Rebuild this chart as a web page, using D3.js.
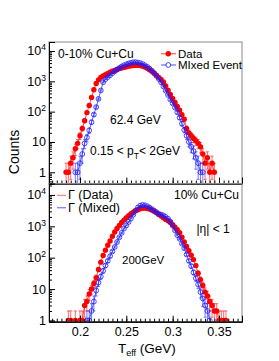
<!DOCTYPE html>
<html><head><meta charset="utf-8">
<script src="https://cdn.jsdelivr.net/npm/d3@7"></script>
<style>body{margin:0;background:#fff}svg{display:block}text{font-family:"Liberation Sans",Arial,Helvetica,sans-serif;fill:#000}</style>
</head><body><svg id="c" width="279" height="361"></svg>
<script>
// ---- axis ticks / labels ----
const xMajorTicks = [0.2, 0.25, 0.3, 0.35];
const xTickLabels = ["0.2", "0.25", "0.3", "0.35"];
const yMajorTicks = [1, 10, 100, 1000, 10000];
const yTickBase = ["1", "10", "10", "10", "10"];
const yTickExp = ["", "", "2", "3", "4"];

// ---- top panel: 62.4 GeV ----
const topDataT = [0.185,0.1875,0.19,0.1925,0.195,0.1975,0.2,0.2025,0.205,0.2075,0.21,0.2125,0.215,0.2175,0.22,0.2225,0.225,0.2275,0.23,0.2325,0.235,0.2375,0.24,0.2425,0.245,0.2475,0.25,0.2525,0.255,0.2575,0.26,0.2625,0.265,0.2675,0.27,0.2725,0.275,0.2775,0.28,0.2825,0.285,0.2875,0.29,0.2925,0.295,0.2975,0.3,0.3025,0.305,0.3075,0.31,0.3125,0.315,0.3175,0.32,0.3225,0.325,0.3275,0.33,0.3325,0.335,0.3375,0.34,0.3425,0.345];
const topDataC = [1,1,2,3,6,9,16,28,50,93,160,295,525,850,1120,1350,1510,1660,1820,2000,2140,2290,2450,2630,2750,2880,3020,3160,3240,3310,3350,3350,3310,3160,2950,2690,2400,2140,1860,1580,1350,1150,955,710,510,370,270,200,148,112,79,56,28,20,16,13,11,9,7,4,2,3,1,2,1];
const topMixT = [0.195,0.1975,0.2,0.2025,0.205,0.2075,0.21,0.2125,0.215,0.2175,0.22,0.2225,0.225,0.2275,0.23,0.2325,0.235,0.2375,0.24,0.2425,0.245,0.2475,0.25,0.2525,0.255,0.2575,0.26,0.2625,0.265,0.2675,0.27,0.2725,0.275,0.2775,0.28,0.2825,0.285,0.2875,0.29,0.2925,0.295,0.2975,0.3,0.3025,0.305,0.3075,0.31,0.3125,0.315,0.3175,0.32,0.3225,0.325,0.3275,0.33,0.3325];
const topMixC = [1,1,2,4,9,14,24,45,80,141,263,500,930,1175,1380,1585,1860,2140,2450,2750,3090,3390,3630,3890,4070,4270,4270,4170,3980,3720,3390,3020,2630,2240,1860,1510,1200,930,680,490,355,250,186,135,95,63,40,25,16,10,7,5,3,2,1,1];

// ---- bottom panel: 200 GeV ----
const botDataT = [0.1875,0.19,0.1925,0.195,0.1975,0.2,0.2025,0.205,0.2075,0.21,0.2125,0.215,0.2175,0.22,0.2225,0.225,0.2275,0.23,0.2325,0.235,0.2375,0.24,0.2425,0.245,0.2475,0.25,0.2525,0.255,0.2575,0.26,0.2625,0.265,0.2675,0.27,0.2725,0.275,0.2775,0.28,0.2825,0.285,0.2875,0.29,0.2925,0.295,0.2975,0.3,0.3025,0.305,0.3075,0.31,0.3125,0.315,0.3175,0.32,0.3225,0.325,0.3275,0.33,0.3325,0.335,0.3375,0.34,0.3425,0.345,0.3475,0.35,0.3525,0.355,0.3575];
const botDataC = [1,1,0,1,0,1,1,3,4,7,10,15,23,42,72,117,174,250,340,480,660,850,1070,1320,1580,1900,2190,2510,2820,3160,3390,3630,3800,3800,3720,3550,3310,3020,2690,2400,2140,1860,1660,1510,1320,1120,930,775,630,450,316,229,166,120,87,56,32,20,13,8,6,4,3,2,2,1,1,1,1];
const botMixT = [0.2075,0.21,0.2125,0.215,0.2175,0.22,0.2225,0.225,0.2275,0.23,0.2325,0.235,0.2375,0.24,0.2425,0.245,0.2475,0.25,0.2525,0.255,0.2575,0.26,0.2625,0.265,0.2675,0.27,0.2725,0.275,0.2775,0.28,0.2825,0.285,0.2875,0.29,0.2925,0.295,0.2975,0.3,0.3025,0.305,0.3075,0.31,0.3125,0.315,0.3175,0.32,0.3225,0.325,0.3275,0.33,0.3325,0.335,0.3375,0.34];
const botMixC = [1,1,2,4,9,16,25,38,56,79,112,158,219,316,447,617,851,1070,1380,1780,2340,3160,3980,4570,4790,4680,4370,3980,3550,3160,2820,2510,2350,2240,2000,1740,1410,1050,740,525,400,280,200,126,79,54,34,22,14,8,5,3,2,1];

const W = 279, H = 361;
const RED = "#ff0000", BLUE = "#1a1aff";
const svg = d3.select("#c");
svg.append("rect").attr("width", W).attr("height", H).attr("fill", "#fff");

const x = d3.scaleLinear().domain([0.1666, 0.3748]).range([49, 242]);
const xMinor = d3.range(34, 75).map(k => k * 0.005).filter(v => v > 0.1666 && v < 0.3748);

const panels = [
  { top: 42, bottom: 183.5, dom: [0.427, 19800], dT: topDataT, dC: topDataC, mT: topMixT, mC: topMixC, labels: false },
  { top: 183.5, bottom: 321.7, dom: [0.91, 23200], dT: botDataT, dC: botDataC, mT: botMixT, mC: botMixC, labels: true }
];

function series(g, y, T, C, color, filled, dom) {
  const pts = T.map((t, i) => ({ t, c: C[i] })).filter(d => d.c > 0);
  g.append("path").datum(pts)
    .attr("d", d3.line().x(d => x(d.t)).y(d => y(d.c)))
    .attr("fill", "none").attr("stroke", color).attr("stroke-width", 0.7);
  const eb = g.append("g").attr("stroke", color).attr("stroke-width", 0.8).attr("opacity", 0.75);
  pts.forEach(d => {
    const e = Math.sqrt(d.c);
    const hi = d.c + e, lo = Math.max(d.c - e, dom[0] * 0.5);
    const px = x(d.t);
    eb.append("line").attr("x1", px).attr("x2", px).attr("y1", y(hi)).attr("y2", y(lo));
    eb.append("line").attr("x1", px - 1.5).attr("x2", px + 1.5).attr("y1", y(hi)).attr("y2", y(hi));
    if (d.c - e > dom[0]) eb.append("line").attr("x1", px - 1.5).attr("x2", px + 1.5).attr("y1", y(lo)).attr("y2", y(lo));
  });
  g.append("g").selectAll("circle").data(pts).join("circle")
    .attr("cx", d => x(d.t)).attr("cy", d => y(d.c))
    .attr("r", filled ? 2.7 : 2.4)
    .attr("fill", filled ? color : "none")
    .attr("stroke", color).attr("stroke-width", filled ? 0 : 0.8);
}

panels.forEach((p, i) => {
  const y = d3.scaleLog().domain(p.dom).range([p.bottom, p.top]);
  const clipId = "clip" + i;
  svg.append("clipPath").attr("id", clipId).append("rect")
    .attr("x", 49).attr("y", p.top).attr("width", 193).attr("height", p.bottom - p.top);
  const plot = svg.append("g").attr("clip-path", `url(#${clipId})`);
  series(plot, y, p.dT, p.dC, RED, true, p.dom);
  series(plot, y, p.mT, p.mC, BLUE, false, p.dom);

  // frame (top/right grey)
  svg.append("rect").attr("x", 49).attr("y", p.top).attr("width", 193).attr("height", p.bottom - p.top)
    .attr("fill", "none").attr("stroke", "#888").attr("stroke-width", 1);

  // y axis
  const yMinorVals = [];
  for (let dec = 0.1; dec <= 10000; dec *= 10)
    for (let m = 2; m <= 9; m++) { const v = m * dec; if (v > p.dom[0] && v < p.dom[1]) yMinorVals.push(v); }
  const ya = svg.append("g").attr("transform", "translate(49,0)");
  ya.call(d3.axisLeft(y).tickValues(yMajorTicks).tickSize(-6).tickFormat(""));
  ya.append("g").call(d3.axisLeft(y).tickValues(yMinorVals).tickSize(-3).tickFormat(""));
  ya.selectAll(".domain").attr("stroke", "#000");
  ya.selectAll("line").attr("stroke", "#000");

  yMajorTicks.forEach((v, k) => {
    const t = svg.append("text").attr("x", 46).attr("y", y(v) + 4.5)
      .attr("text-anchor", "end").attr("font-size", 12.5).text(yTickBase[k]);
    if (yTickExp[k]) t.append("tspan").attr("dy", -5).attr("font-size", 8.5).text(yTickExp[k]);
  });

  // x axis
  const xa = svg.append("g").attr("transform", `translate(0,${p.bottom})`);
  xa.call(d3.axisBottom(x).tickValues(xMajorTicks).tickSize(-6).tickPadding(5)
    .tickFormat((d, k) => p.labels ? xTickLabels[k] : ""));
  xa.append("g").call(d3.axisBottom(x).tickValues(xMinor).tickSize(-3).tickFormat(""));
  xa.selectAll(".domain").attr("stroke", "#000");
  xa.selectAll("line").attr("stroke", "#000");
  xa.selectAll("text").attr("font-size", 12.5).attr("font-family", '"Liberation Sans",Arial,sans-serif').attr("fill", "#000");
});

// ---- annotations ----
const txt = (xx, yy, s, size, anchor) => svg.append("text").attr("x", xx).attr("y", yy)
  .attr("font-size", size).attr("text-anchor", anchor || "start").text(s);

txt(58, 57.5, "0-10% Cu+Cu", 12);
// legend top
svg.append("line").attr("x1", 161).attr("x2", 176).attr("y1", 53.8).attr("y2", 53.8).attr("stroke", RED).attr("stroke-width", 0.8);
svg.append("circle").attr("cx", 168.3).attr("cy", 53.8).attr("r", 2.7).attr("fill", RED);
txt(178, 57.6, "Data", 11.5);
svg.append("line").attr("x1", 161).attr("x2", 176).attr("y1", 65).attr("y2", 65).attr("stroke", BLUE).attr("stroke-width", 0.8);
svg.append("circle").attr("cx", 168.3).attr("cy", 65).attr("r", 2.4).attr("fill", "#fff").attr("stroke", BLUE).attr("stroke-width", 0.8);
txt(178, 69.2, "MIxed Event", 11.5);

txt(110, 123.5, "62.4 GeV", 12);
const pt = txt(90, 155, "0.15 < p", 12);
pt.append("tspan").attr("dy", 3.5).attr("font-size", 8.5).text("T");
pt.append("tspan").attr("dy", -3.5).text("< 2GeV");

// legend bottom
svg.append("line").attr("x1", 57).attr("x2", 66).attr("y1", 195.3).attr("y2", 195.3).attr("stroke", "#ff5555").attr("stroke-width", 0.9);
txt(68, 199, "\u0393 (Data)", 12.5);
svg.append("line").attr("x1", 57).attr("x2", 66).attr("y1", 207.8).attr("y2", 207.8).attr("stroke", "#4444ff").attr("stroke-width", 0.9);
txt(68, 211.5, "\u0393 (Mixed)", 12.5);

txt(239, 199, "10% Cu+Cu", 12, "end");
txt(196.5, 233, "|\u03b7| < 1", 12);
txt(122, 263.5, "200GeV", 11.5);

// axis titles
const xt = txt(118, 353, "T", 13.5);
xt.append("tspan").attr("dy", 3).attr("font-size", 9).text("eff");
xt.append("tspan").attr("dy", -3).text(" (GeV)");
svg.append("text").attr("transform", "translate(19,152) rotate(-90)")
  .attr("text-anchor", "middle").attr("font-size", 14).text("Counts");
</script>
</body></html>
